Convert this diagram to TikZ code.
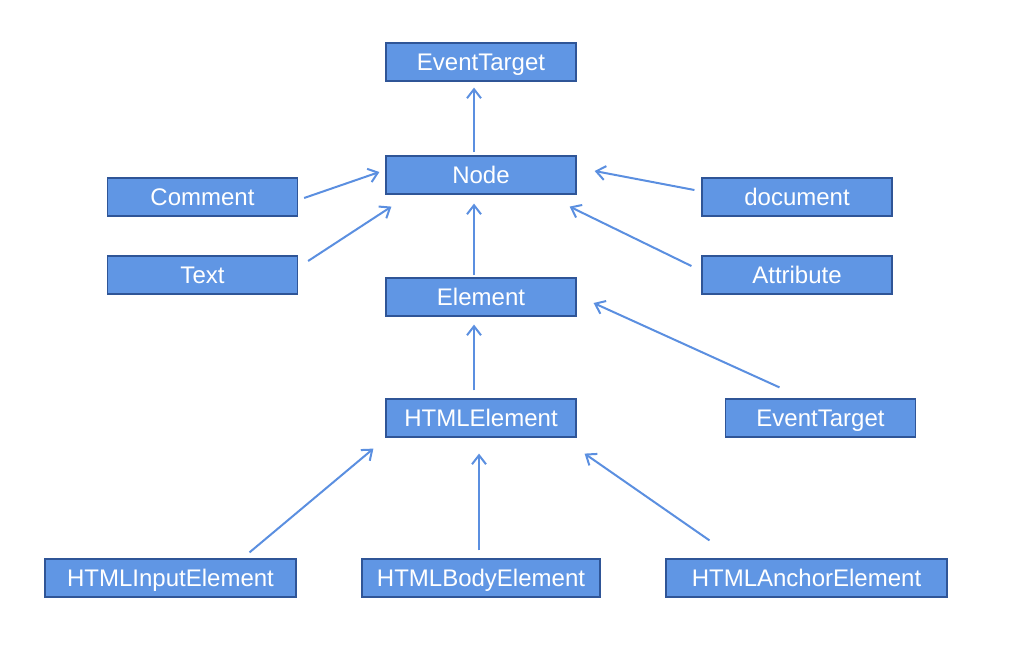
\documentclass[tikz,border=0pt]{standalone}
\usepackage{fontspec}
\setmainfont{Liberation Sans}
\usetikzlibrary{arrows.meta}
\definecolor{boxblue}{RGB}{96,150,228}
\definecolor{boxline}{RGB}{47,85,151}
\definecolor{arrowblue}{RGB}{91,143,224}

\begin{document}
\begin{tikzpicture}[x=1pt,y=-1pt,
    cls/.style={draw=boxline, line width=1.2pt, fill=boxblue, text=white,
        minimum width=190pt, minimum height=38pt, inner sep=0pt,
        text height=17pt, text depth=0pt,
        font=\fontsize{24}{28}\selectfont},
    inh/.style={draw=arrowblue, line width=2pt,
        -{Straight Barb[length=9pt,width=14pt]}}]
    \useasboundingbox (0,0) rectangle (1024,649);

    % top of the tree
    \node[cls] (ET) at (481,62) {EventTarget};
    \node[cls] (Node) at (481,175) {Node};
    \node[cls] (Elem) at (481,297) {Element};
    \node[cls] (HElem) at (481,418) {HTMLElement};

    % left and right side
    \node[cls] (Comm) at (202.5,197) {Comment};
    \node[cls] (Txt) at (202.5,275) {Text};
    \node[cls] (Doc) at (797,197) {document};
    \node[cls] (Attr) at (797,275) {Attribute};
    \node[cls] (ET2) at (820.5,418) {EventTarget};

    % bottom row
    \node[cls, minimum width=251pt] (HInput) at (170.5,578) {HTMLInputElement};
    \node[cls, minimum width=238pt] (HBody) at (481,578) {HTMLBodyElement};
    \node[cls, minimum width=281pt] (HAnchor) at (806.5,578) {HTMLAnchorElement};

    % inheritance arrows
    \draw[inh] ([xshift=-7pt,yshift=3pt]Node.north) -- ([xshift=-7pt,yshift=-6pt]ET.south);
    \draw[inh] ([xshift=6pt,yshift=-1pt]Comm.east) -- ([xshift=-6pt,yshift=3pt]Node.west);
    \draw[inh] ([xshift=10pt,yshift=14pt]Txt.east) -- ([xshift=6pt,yshift=-12pt]Node.south west);
    \draw[inh] ([xshift=-7pt,yshift=7pt]Doc.west) -- ([xshift=18pt,yshift=4pt]Node.east);
    \draw[inh] ([xshift=-10pt,yshift=9pt]Attr.west) -- ([xshift=-7pt,yshift=-12pt]Node.south east);
    \draw[inh] ([xshift=-7pt,yshift=2pt]Elem.north) -- ([xshift=-7pt,yshift=-9pt]Node.south);
    \draw[inh] ([xshift=-41pt,yshift=11pt]ET2.north) -- ([xshift=17pt,yshift=-6pt]Elem.east);
    \draw[inh] ([xshift=-7pt,yshift=8pt]HElem.north) -- ([xshift=-7pt,yshift=-8pt]Elem.south);
    \draw[inh] ([xshift=79pt,yshift=6pt]HInput.north) -- ([xshift=-12pt,yshift=-11pt]HElem.south west);
    \draw[inh] ([xshift=-2pt,yshift=8pt]HBody.north) -- ([xshift=-2pt,yshift=-16pt]HElem.south);
    \draw[inh] ([xshift=-97pt,yshift=18pt]HAnchor.north) -- ([xshift=8pt,yshift=-16pt]HElem.south east);

\end{tikzpicture}
\end{document}
